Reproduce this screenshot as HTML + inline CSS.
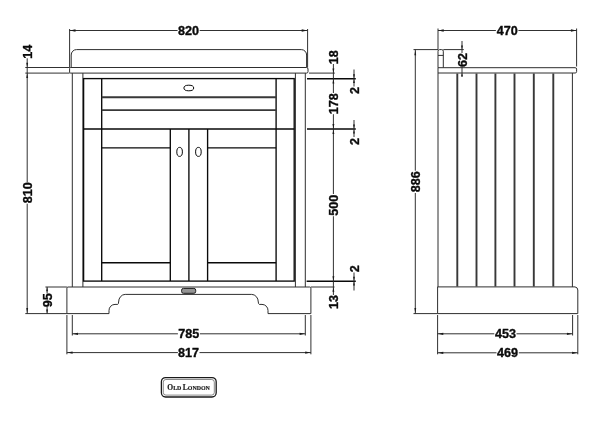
<!DOCTYPE html>
<html><head><meta charset="utf-8">
<style>
html,body{margin:0;padding:0;background:#fff;}
body{width:600px;height:424px;overflow:hidden;font-family:"Liberation Sans",sans-serif;}
svg{display:block;filter:grayscale(1);}
.t{stroke:#2e2e2e;stroke-width:1;fill:none;}
.k{stroke:#0a0a0a;stroke-width:1.35;fill:none;}
.g{stroke:#383838;stroke-width:1.9;fill:none;}
.d{stroke:#262626;stroke-width:0.95;fill:none;}
.a{fill:#1a1a1a;stroke:none;}
text{font-family:"Liberation Sans",sans-serif;font-weight:bold;font-size:12.6px;fill:#0a0a0a;text-anchor:middle;stroke:#0a0a0a;stroke-width:0.35px;stroke-linejoin:round;}
</style></head>
<body>
<svg width="600" height="424" viewBox="0 0 600 424">
<rect width="600" height="424" fill="#fff"/>

<!-- ===== FRONT ELEVATION ===== -->
<!-- basin -->
<path class="t" d="M71.2,67.5 V55 A5.3,5.3 0 0 1 76.5,49.6 H301.3 A5.3,5.3 0 0 1 306.6,55 V67.5"/>
<!-- countertop -->
<path class="t" d="M70.5,67.5 H306.5 Q308,67.5 308,69 V71.6 Q308,73.1 306.5,73.1 H70.5 Q69.6,73.1 69.6,72 V68.6 Q69.6,67.5 70.5,67.5 Z"/>
<!-- carcass -->
<path class="t" d="M72.3,73.1 V287 M305.3,73.1 V287 M82.9,73.1 V287 M295.4,73.1 V287"/>
<!-- frame -->
<rect class="k" x="83.6" y="78.6" width="210.6" height="202.5"/>
<path class="k" d="M101.7,78.6 V281.1 M276.1,78.6 V281.1 M83.6,129 H294.2 M170.3,129 V281.1 M188.9,129 V281.1 M207.6,129 V281.1"/>
<path class="k" d="M101.7,147.8 H170.3 M101.7,262.7 H170.3 M207.6,147.8 H276.1 M207.6,262.7 H276.1"/>
<path class="g" d="M101.7,97.2 H276.1 M101.7,110.1 H276.1"/>
<!-- drain & knobs -->
<ellipse class="k" cx="188.8" cy="88" rx="4.9" ry="2.8" style="stroke-width:1"/>
<ellipse class="k" cx="179.6" cy="151.9" rx="2.8" ry="4.5" style="stroke-width:1"/>
<ellipse class="k" cx="198.4" cy="151.9" rx="2.8" ry="4.5" style="stroke-width:1"/>
<!-- plinth -->
<path class="t" d="M68,287 H309.8 Q310.9,287 310.9,288.1 V313.6 H268 V310.5 A6,6 0 0 0 262,304.4 H259.3 Q258.3,304 258.3,302 A6.6,7.7 0 0 0 251.7,294.4 H125.2 A6.6,7.7 0 0 0 118.6,302 Q118.6,304 117.7,304.4 H115 A6,6 0 0 0 109,310.5 V313.6 H66.9 V288.1 Q66.9,287 68,287 Z"/>
<!-- small badge -->
<rect x="181.6" y="288.4" width="14.1" height="4.9" rx="1.8" fill="#959595" stroke="#1a1a1a" stroke-width="1"/>

<!-- dims: 820 -->
<path class="d" d="M69.6,29 V67.5 M307.6,29 V67.5 M69.6,30.5 H177.6 M199.7,30.5 H307.6"/>
<path class="a" d="M69.9,30.5 L75.5,29.35 V31.65 Z M307.3,30.5 L301.7,29.35 V31.65 Z"/>
<text x="188.6" y="35">820</text>

<!-- dims: 14 / 810 -->
<path class="d" d="M25.3,67.5 H69.6 M25.3,73.1 H69.6 M25.3,313.6 H66.9"/>
<path class="d" d="M27.2,58.3 V182 M27.2,203.7 V313.6"/>
<path class="a" d="M27.2,313.3 L26.3,308 H28.1 Z"/>
<text transform="translate(31.8,51.8) rotate(-90)">14</text>
<text transform="translate(31.8,192.8) rotate(-90)">810</text>

<!-- dims: 95 -->
<path class="d" d="M45.4,287 H66.9 M47.1,287 V293.6 M47.1,307 V313.6"/>
<text transform="translate(52,300.3) rotate(-90)">95</text>

<!-- dims: 785 / 817 -->
<path class="d" d="M72.3,315 V335.5 M305.3,315 V335.5 M66.9,315 V354.3 M310.9,315 V354.3"/>
<path class="d" d="M72.3,333.8 H177.9 M199.9,333.8 H305.3 M66.9,352.6 H177.9 M199.5,352.6 H310.9"/>
<path class="a" d="M72.6,333.8 L78.0,332.65 V334.95 Z M305,333.8 L299.6,332.65 V334.95 Z M67.2,352.6 L72.6,351.45 V353.75 Z M310.6,352.6 L305.2,351.45 V353.75 Z"/>
<text x="188.8" y="338">785</text>
<text x="188.6" y="356.7">817</text>

<!-- dims right: 18 / 178 / 500 / 13 -->
<path class="d" d="M309,73.1 H334.8 M311,287 H334.5"/>
<path class="k" d="M307,78.7 H355.8 M307,129 H355.8 M306.6,281.2 H355.8"/>
<path class="d" d="M333.4,64 V93 M333.4,114.2 V194 M333.4,216.2 V295"/>
<text transform="translate(338,57.2) rotate(-90)">18</text>
<text transform="translate(338,103.7) rotate(-90)">178</text>
<text transform="translate(338,205.2) rotate(-90)">500</text>
<text transform="translate(338,302) rotate(-90)">13</text>
<!-- dims: 2,2,2 -->
<path class="d" d="M354,69.5 V86.5 M354,120 V137 M354,272.5 V290.5"/>
<text transform="translate(358.6,90.6) rotate(-90)">2</text>
<text transform="translate(358.6,141.5) rotate(-90)">2</text>
<text transform="translate(358.6,268.8) rotate(-90)">2</text>

<!-- ===== SIDE ELEVATION ===== -->
<!-- upstand -->
<path class="t" d="M438,67.7 V51.2 Q438,49.6 439.6,49.6 H441.7 Q443.3,49.6 443.3,51.2 V67.7 M438,55.4 H443.3"/>
<!-- countertop -->
<path class="t" d="M438,67.7 H575.2 Q576.6,67.7 576.6,69.1 V71.6 Q576.6,73 575.2,73 H438 Z"/>
<!-- panel -->
<path class="t" d="M438,73 V287 M572.4,73 V287"/>
<path class="g" d="M457.3,73.5 V286.5 M476.5,73.5 V286.5 M495.4,73.5 V286.5 M514.5,73.5 V286.5 M533.8,73.5 V286.5 M553.3,73.5 V286.5"/>
<!-- plinth -->
<path class="t" d="M437.6,286.9 H575 Q577.8,287.4 577.8,290 V313.6 H437.6 Z"/>

<!-- dims: 470 -->
<path class="d" d="M438,28.5 V49.6 M576.6,28.5 V66.5 M438,30.5 H495.9 M518.4,30.5 H576.6"/>
<path class="a" d="M438.3,30.5 L443.7,29.35 V31.65 Z M576.3,30.5 L570.9,29.35 V31.65 Z"/>
<text x="507.2" y="35">470</text>
<!-- dims: 886 -->
<path class="d" d="M413.5,49.6 H438 M413.5,313.6 H437.6 M415.3,49.6 V170.7 M415.3,193 V313.6"/>
<path class="a" d="M415.3,49.9 L414.4,55.3 H416.2 Z M415.3,313.3 L414.4,308 H416.2 Z"/>
<text transform="translate(419.9,181.8) rotate(-90)">886</text>
<!-- dims: 62 -->
<path class="d" d="M443.3,49.6 H463.8 M462,41 V53 M462,66.7 V76.5"/>
<text transform="translate(467,59.9) rotate(-90)">62</text>
<!-- dims: 453 / 469 -->
<path class="d" d="M437.6,315 V354.3 M572.6,315 V335.5 M577.8,315 V354.3"/>
<path class="d" d="M437.6,333.8 H494.3 M516.5,333.8 H572.6 M437.6,352.8 H496.5 M518.8,352.8 H577.8"/>
<path class="a" d="M437.9,333.8 L443.3,332.65 V334.95 Z M572.3,333.8 L566.9,332.65 V334.95 Z M437.9,352.8 L443.3,351.65 V353.95 Z M577.5,352.8 L572.1,351.65 V353.95 Z"/>
<text x="505.4" y="338">453</text>
<text x="507.6" y="356.8">469</text>

<path class="a" d="M27.2,67.3 L26.25,62.699999999999996 H28.15 Z M27.2,73.3 L26.25,77.89999999999999 H28.15 Z M47.1,287.2 L46.15,291.2 H48.050000000000004 Z M47.1,313.4 L46.15,309.4 H48.050000000000004 Z M333.4,73.0 L332.45,68.4 H334.34999999999997 Z M333.4,128.7 L332.45,124.1 H334.34999999999997 Z M333.4,280.9 L332.45,276.29999999999995 H334.34999999999997 Z M333.4,79.0 L332.45,83.6 H334.34999999999997 Z M333.4,129.3 L332.45,133.9 H334.34999999999997 Z M333.4,287.2 L332.45,291.8 H334.34999999999997 Z M354,78.3 L353.05,74.3 H354.95 Z M354,79.10000000000001 L353.05,83.10000000000001 H354.95 Z M354,128.6 L353.05,124.6 H354.95 Z M354,129.4 L353.05,133.4 H354.95 Z M354,280.8 L353.05,276.8 H354.95 Z M354,281.59999999999997 L353.05,285.59999999999997 H354.95 Z M462,49.4 L461.05,45.4 H462.95 Z M462,73.3 L461.05,76.5 H462.95 Z"/>
<!-- ===== LOGO ===== -->
<rect x="161.4" y="377.6" width="54.8" height="19.4" rx="4.2" fill="#fff" stroke="#1a1a1a" stroke-width="1.3"/>
<rect x="163.3" y="379.5" width="51" height="15.6" rx="2.6" fill="none" stroke="#3a3a3a" stroke-width="0.6"/>
<text x="188.6" y="389.8" textLength="42.6" lengthAdjust="spacingAndGlyphs" style="font-family:'Liberation Serif',serif;font-size:5.9px;stroke:#1a1a1a;stroke-width:0.18px;fill:#1a1a1a"><tspan style="font-size:7.5px">O</tspan>LD <tspan style="font-size:7.5px">L</tspan>ONDON</text>
</svg>
</body></html>
